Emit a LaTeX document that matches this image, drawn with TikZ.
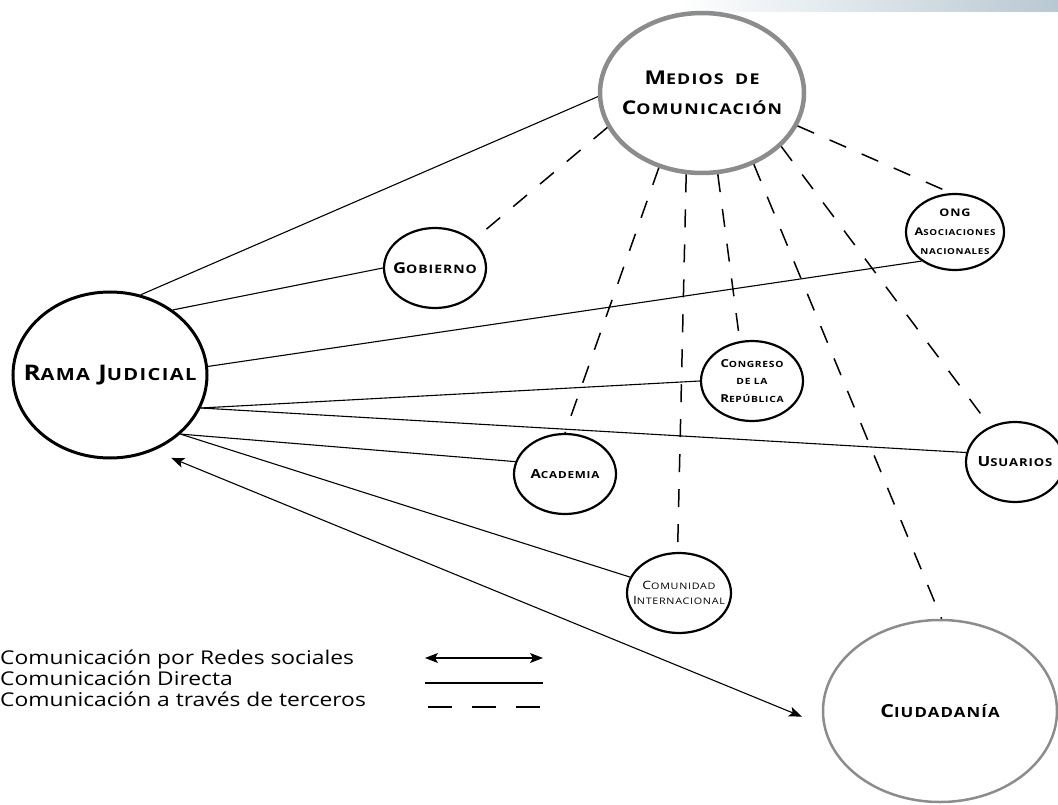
\documentclass[tikz,border=0pt]{standalone}
\usepackage{fontspec}
\usepackage{graphicx}
\usetikzlibrary{shapes.geometric,arrows.meta}
\setmainfont{Open Sans}[FakeStretch=1.2]
\newfontfamily\capfont{Open Sans}[FakeStretch=1.2,LetterSpace=8]
\definecolor{gg}{RGB}{140,140,140}
\definecolor{bb}{RGB}{184,200,210}
\newcommand{\petit}[1]{\scalebox{0.78}{#1}}

\begin{document}
\begin{tikzpicture}[every node/.style={inner sep=0pt},
  actor/.style={ellipse, draw=black, line width=2.2pt, align=center, inner sep=-25pt},
  direct/.style={line width=1.1pt, color=black},
  third/.style={line width=1.5pt, color=black, dash pattern=on 18pt off 17pt},
  >={Stealth[length=13pt,width=10pt,inset=3pt]}]
\useasboundingbox (0pt,0pt) rectangle (1058pt,-805pt);
\fill [left color=white, right color=bb] (680pt,0pt) rectangle (1058pt,-12pt);
\node (md) [actor, draw=gg, line width=4.5pt, minimum width=204pt, minimum height=160pt, font=\capfont\bfseries\fontsize{19}{30}\selectfont] at (702pt, -93pt) {M\petit{EDIOS}\hspace{4pt} \petit{DE}\\C\petit{OMUNICACIÓN}};
\node (rj) [actor, line width=3pt, minimum width=194pt, minimum height=166pt, font=\capfont\bfseries\fontsize{21.5}{26}\selectfont] at (110pt, -375pt) {R\petit{AMA} J\petit{UDICIAL}};
\node (gb) [actor, minimum width=102pt, minimum height=80pt, font=\capfont\bfseries\fontsize{15}{17}\selectfont] at (435pt, -268pt) {G\petit{OBIERNO}};
\node (ong) [actor, minimum width=98pt, minimum height=76pt, font=\capfont\bfseries\fontsize{10.5}{19}\selectfont] at (955pt, -232pt) {ONG\\A\petit{SOCIACIONES}\\\petit{NACIONALES}};
\node (cg) [actor, minimum width=102pt, minimum height=80pt, font=\capfont\bfseries\fontsize{11}{17.5}\selectfont] at (752pt, -381pt) {C\petit{ONGRESO}\\\petit{DE LA}\\R\petit{EPÚBLICA}};
\node (us) [actor, minimum width=98pt, minimum height=80pt, font=\capfont\bfseries\fontsize{14}{19}\selectfont] at (1015pt, -462pt) {U\petit{SUARIOS}};
\node (ac) [actor, minimum width=102pt, minimum height=80pt, font=\capfont\bfseries\fontsize{12.5}{17}\selectfont] at (565pt, -474pt) {A\petit{CADEMIA}};
\node (ci) [actor, minimum width=104pt, minimum height=80pt, font=\capfont\fontsize{11.5}{15}\selectfont] at (679pt, -593pt) {C\petit{OMUNIDAD}\\I\petit{NTERNACIONAL}};
\node (cd) [actor, draw=gg, line width=2.5pt, minimum width=234pt, minimum height=182pt, font=\capfont\bfseries\fontsize{18}{21}\selectfont] at (940pt, -711pt) {\raisebox{-6pt}{C\petit{IUDADANÍA}}};
\draw [direct] (rj.69) to (md.182);
\draw [direct] (rj.46) to (gb.180);
\draw [direct] (rj.5) to (ong.221);
\draw [direct] (rj.-20) to (cg.180);
\draw [direct] (rj.-20) to (us.169);
\draw [direct] (rj.-40) to (ac.166);
\draw [direct] (rj.-40) to (ci.162);
\draw [direct, <->, shorten <=19pt, shorten >=23pt] (rj.-60) to (cd.187);
\draw [third] (md.200) to (gb.36);
\draw [third] (md.240) to (ac.90);
\draw [third] (md.259) to (ci.92);
\draw [third] (md.281) to (cg.107);
\draw [third] (md.-54) to (cd.89);
\draw [third] (md.-34) to (us.125);
\draw [third] (md.-19) to (ong.96);
\node (l1) [anchor=base west, font=\fontsize{19}{21}\selectfont] at (0pt, -664pt) {Comunicación por Redes sociales};
\node (l2) [anchor=base west, font=\fontsize{19}{21}\selectfont] at (0pt, -685pt) {Comunicación Directa};
\node (l3) [anchor=base west, font=\fontsize{19}{21}\selectfont] at (0pt, -706pt) {Comunicación a través de terceros};
\coordinate (a1) at (425pt, -658pt);
\coordinate (b1) at (543pt, -658pt);
\coordinate (a2) at (425pt, -683pt);
\coordinate (b2) at (543pt, -683pt);
\coordinate (a3) at (428pt, -707pt);
\coordinate (b3) at (540pt, -707pt);
\draw [direct, <->] (a1) to (b1);
\draw [direct] (a2) to (b2);
\draw [third, dash pattern=on 24pt off 20pt] (a3) to (b3);
\end{tikzpicture}
\end{document}
